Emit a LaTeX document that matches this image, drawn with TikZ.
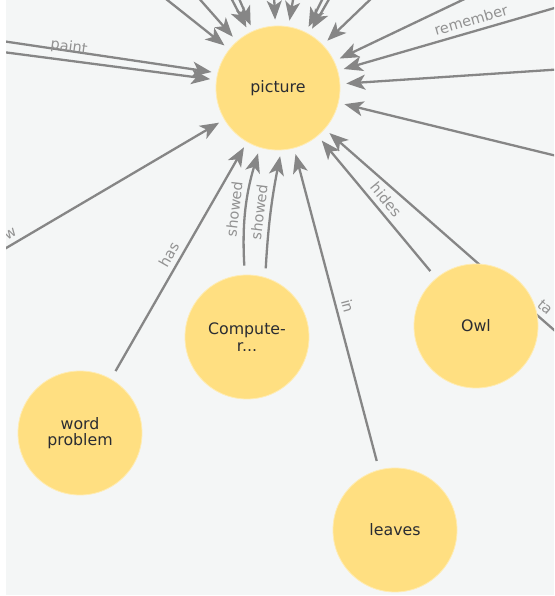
\documentclass[tikz,border=0pt]{standalone}
\usepackage{fontspec}
\setmainfont{DejaVu Sans}
\usetikzlibrary{arrows.meta}
\definecolor{canvas}{RGB}{244,246,246}
\definecolor{nodefill}{RGB}{255,223,129}
\definecolor{relgray}{RGB}{134,134,134}
\definecolor{labgray}{RGB}{146,146,146}
\definecolor{captxt}{RGB}{42,44,50}
\pgfdeclarelayer{back}
\pgfdeclarelayer{links}
\pgfsetlayers{back,links,main}

\begin{document}
\begin{tikzpicture}[x=1pt, y=1pt,
  concept/.style={circle, fill=nodefill, draw=nodefill!60!white, line width=0.8pt, minimum size=124pt, inner sep=0pt,
    align=center, text=captxt, font=\fontsize{15.8}{16.5}\selectfont},
  linkin/.style={draw=relgray, line width=2.3pt, -{Stealth[length=19pt,width=15pt,inset=5pt]}, shorten >=6pt},
  link/.style={linkin, shorten <=9pt},
  lbl/.style={sloped, above=4pt, inner sep=1pt, text=labgray, font=\fontsize{14.5}{15}\selectfont}]
  \useasboundingbox (0,0) rectangle (554,596);
  \begin{pgfonlayer}{back}
    \fill[canvas] (6,1) rectangle (554,596);
  \end{pgfonlayer}
  \node[concept] (pic) at (278,508) {picture};
  \node[concept] (comp) at (247,259) {Compute-\\r...};
  \node[concept] (owl) at (476,270) {Owl};
  \node[concept] (word) at (80,163) {word\\problem};
  \node[concept] (leaves) at (395,66) {leaves};
  % far ends, outside the view
  \coordinate (oA) at (161,601); \coordinate (oB) at (196,601); \coordinate (oC) at (229,602); \coordinate (oD) at (237,602);
  \coordinate (oE) at (274,602); \coordinate (oF) at (294,602); \coordinate (oG) at (325,602); \coordinate (oH) at (332,602);
  \coordinate (oJ) at (376,602); \coordinate (oK) at (475,602); \coordinate (oL) at (565,527); \coordinate (oM) at (565,438);
  \coordinate (oR) at (565,591); \coordinate (oP) at (-5,556); \coordinate (oQ) at (-5,545);
  \coordinate (oW) at (-4,342); \coordinate (oT) at (570,252);
  \begin{pgfonlayer}{links}
    \clip (6,1) rectangle (554,596);
    \foreach \c in {oA,oB,oC,oD,oE,oF,oG,oH,oJ,oK,oL,oM} \draw[linkin] (\c) -- (pic);
    \draw[linkin] (oR) -- node[lbl, pos=0.40] {remember} (pic);
    \draw[linkin] (oP) -- (pic.166);
    \draw[linkin] (oQ) -- node[lbl, pos=0.327] {paint} (pic);
    \draw[linkin] (oW) -- node[lbl, pos=0.086] {w} (pic);
    \draw[linkin] (oT) -- node[lbl, pos=0.132] {ta} (pic);
    \draw[link] (word) -- node[lbl] {has} (pic);
    \draw[link] (comp.92) to[bend left=10] node[lbl] {showed} (pic.253);
    \draw[link] (comp.73) to[bend left=4] node[lbl] {showed} (pic.273);
    \draw[link] (leaves) -- node[lbl] {in} (pic);
    \draw[link] (owl) -- node[lbl] {hides} (pic);
  \end{pgfonlayer}
\end{tikzpicture}
\end{document}
